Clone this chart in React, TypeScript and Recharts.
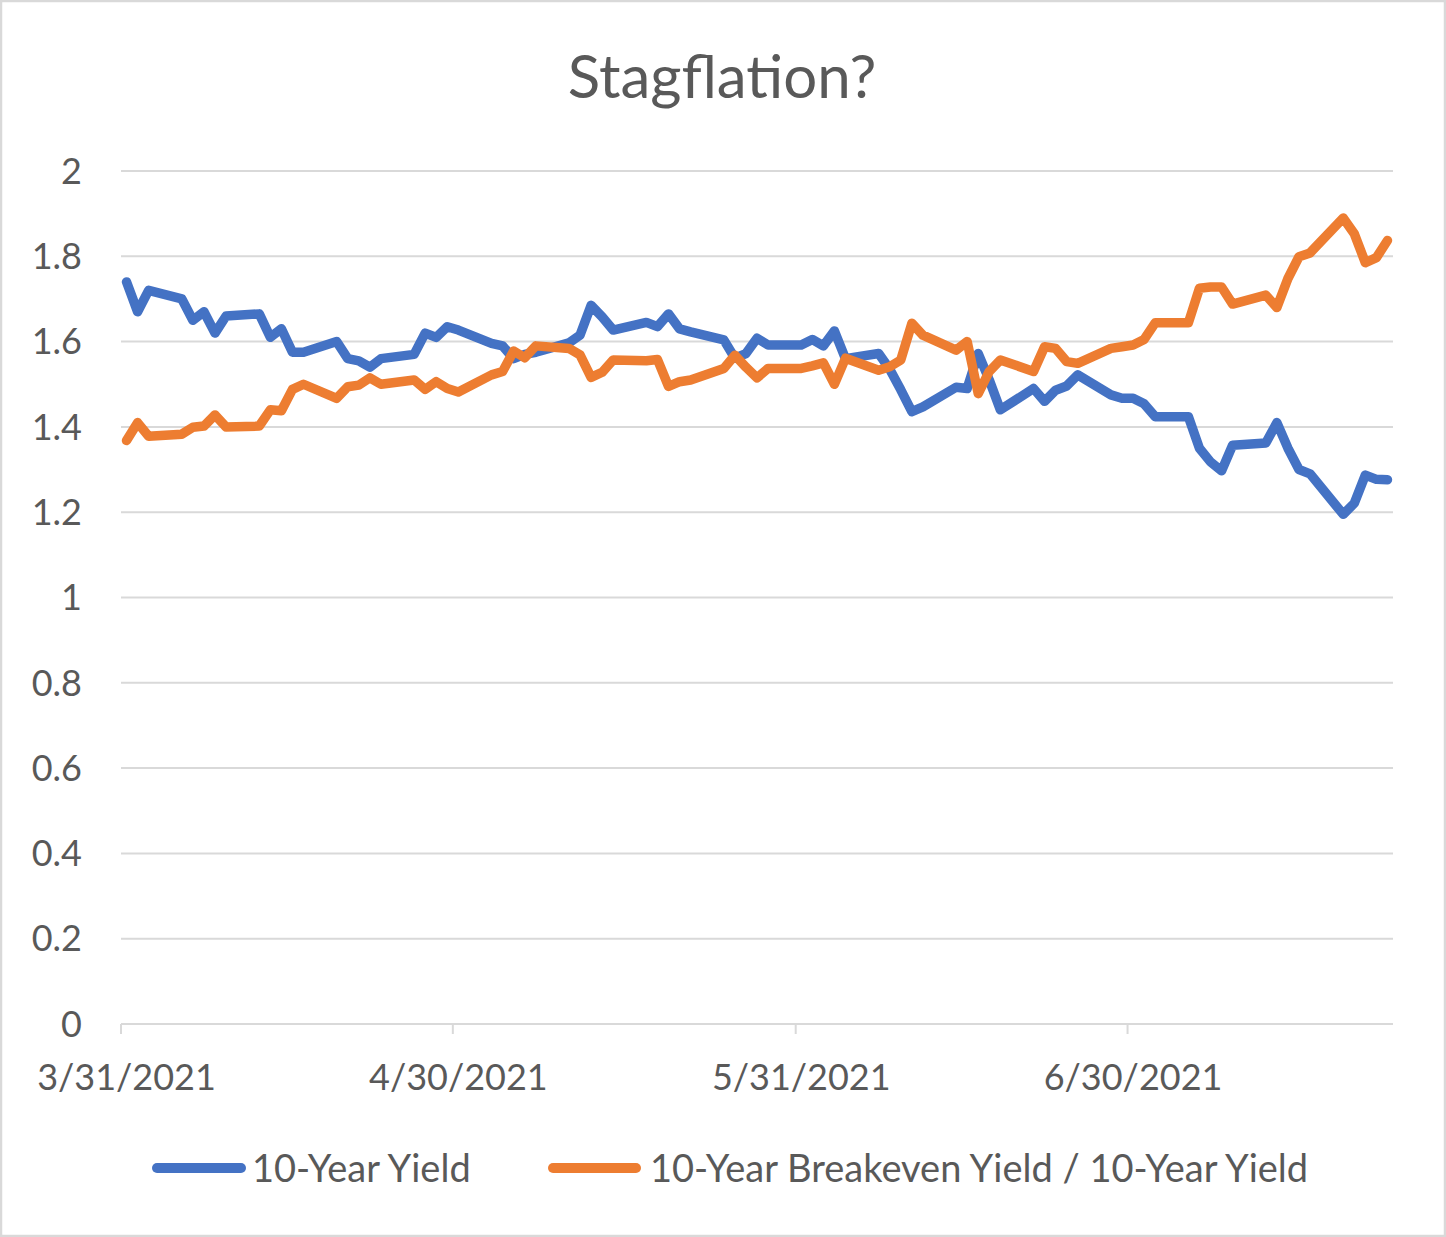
import { CartesianGrid, Line, LineChart, XAxis, YAxis } from 'recharts';

const DATES = [
  '3/31/2021',
  '4/1/2021', '4/2/2021', '4/5/2021', '4/6/2021', '4/7/2021', '4/8/2021', '4/9/2021',
  '4/12/2021', '4/13/2021', '4/14/2021', '4/15/2021', '4/16/2021',
  '4/19/2021', '4/20/2021', '4/21/2021', '4/22/2021', '4/23/2021',
  '4/26/2021', '4/27/2021', '4/28/2021', '4/29/2021', '4/30/2021',
  '5/3/2021', '5/4/2021', '5/5/2021', '5/6/2021', '5/7/2021',
  '5/10/2021', '5/11/2021', '5/12/2021', '5/13/2021', '5/14/2021',
  '5/17/2021', '5/18/2021', '5/19/2021', '5/20/2021', '5/21/2021',
  '5/24/2021', '5/25/2021', '5/26/2021', '5/27/2021', '5/28/2021', '5/31/2021',
  '6/1/2021', '6/2/2021', '6/3/2021', '6/4/2021',
  '6/7/2021', '6/8/2021', '6/9/2021', '6/10/2021', '6/11/2021',
  '6/14/2021', '6/15/2021', '6/16/2021', '6/17/2021', '6/18/2021',
  '6/21/2021', '6/22/2021', '6/23/2021', '6/24/2021', '6/25/2021',
  '6/28/2021', '6/29/2021', '6/30/2021', '7/1/2021', '7/2/2021',
  '7/5/2021', '7/6/2021', '7/7/2021', '7/8/2021', '7/9/2021',
  '7/12/2021', '7/13/2021', '7/14/2021', '7/15/2021', '7/16/2021',
  '7/19/2021', '7/20/2021', '7/21/2021', '7/22/2021', '7/23/2021',
];

const YIELD_10Y = [
  1.74,
  1.67, 1.72, 1.70, 1.65, 1.67, 1.62, 1.66,
  1.665, 1.61, 1.63, 1.575, 1.575,
  1.60, 1.56, 1.555, 1.54, 1.56,
  1.57, 1.62, 1.61, 1.635, 1.627,
  1.596, 1.59, 1.56, 1.57, 1.575,
  1.597, 1.615, 1.685, 1.658, 1.627,
  1.645, 1.635, 1.665, 1.63, 1.623,
  1.604, 1.561, 1.572, 1.608, 1.592, 1.592,
  1.605, 1.59, 1.625, 1.56,
  1.572, 1.535, 1.487, 1.436, 1.447,
  1.493, 1.49, 1.572, 1.51, 1.44,
  1.49, 1.46, 1.486, 1.496, 1.522,
  1.475, 1.467, 1.467, 1.454, 1.424,
  1.424, 1.35, 1.318, 1.297, 1.357,
  1.362, 1.41, 1.35, 1.30, 1.29,
  1.195, 1.221, 1.287, 1.277, 1.276,
];

const BREAKEVEN_RATIO = [
  1.368,
  1.41, 1.378, 1.383, 1.399, 1.402, 1.428, 1.40,
  1.402, 1.44, 1.438, 1.488, 1.50,
  1.467, 1.494, 1.498, 1.515, 1.50,
  1.51, 1.488, 1.506, 1.49, 1.482,
  1.522, 1.53, 1.578, 1.562, 1.59,
  1.584, 1.569, 1.516, 1.528, 1.557,
  1.555, 1.558, 1.495, 1.506, 1.51,
  1.537, 1.568, 1.54, 1.515, 1.537, 1.537,
  1.543, 1.55, 1.50, 1.561,
  1.533, 1.541, 1.557, 1.643, 1.615,
  1.58, 1.60, 1.478, 1.53, 1.557,
  1.53, 1.588, 1.584, 1.553, 1.549,
  1.584, 1.588, 1.592, 1.605, 1.644,
  1.644, 1.725, 1.728, 1.728, 1.688,
  1.709, 1.68, 1.748, 1.799, 1.808,
  1.89, 1.853, 1.785, 1.797, 1.837,
];

const X_TICK_LABELS = ['3/31/2021', '4/30/2021', '5/31/2021', '6/30/2021'];
const X_END_LABEL = '7/24/2021';
const Y_TICKS = [0, 0.2, 0.4, 0.6, 0.8, 1, 1.2, 1.4, 1.6, 1.8, 2];

const BLUE = '#4472C4';
const ORANGE = '#ED7D31';
const TEXT = '#595959';
const GRID = '#d9d9d9';
const FONT = 'Lato, "Open Sans", sans-serif';

const W = 1446;
const H = 1237;
const PLOT_LEFT = 121;
const PLOT_RIGHT = 1393;

const toUtc = (s: string) => {
  const [m, d, y] = s.split('/').map(Number);
  return Date.UTC(y, m - 1, d);
};
const T0 = toUtc(DATES[0]);
const dayOf = (s: string) => (toUtc(s) - T0) / 86400000;

const X_TICKS = X_TICK_LABELS.map(dayOf);
const X_MAX = dayOf(X_END_LABEL);
const HALF_DAY_PX = (PLOT_RIGHT - PLOT_LEFT) / X_MAX / 2;

// points sit in the middle of each day slot, like Excel's date axis
const data = DATES.map((d, i) => ({
  x: dayOf(d) + 0.5,
  yield10: YIELD_10Y[i],
  ratio: BREAKEVEN_RATIO[i],
}));

const XTick = (props: any) => {
  const { x, y, payload } = props;
  const idx = X_TICKS.indexOf(payload.value);
  return (
    <text
      x={x + HALF_DAY_PX}
      y={y + 56}
      textAnchor="middle"
      fill={TEXT}
      fontSize={36}
      fontFamily={FONT}
    >
      {X_TICK_LABELS[idx]}
    </text>
  );
};

const App = () => {
  return (
    <div style={{ position: 'absolute', left: 0, top: 0, width: W, height: H, background: '#fff' }}>
      <LineChart
        width={W}
        height={H}
        data={data}
        margin={{ top: 171, right: W - PLOT_RIGHT, bottom: 153, left: 0 }}
        style={{ fontFamily: FONT }}
      >
        <CartesianGrid stroke={GRID} strokeWidth={2} vertical={false} />
        <XAxis
          dataKey="x"
          type="number"
          domain={[0, X_MAX]}
          ticks={X_TICKS}
          height={60}
          tickSize={10}
          tickMargin={0}
          axisLine={{ stroke: GRID, strokeWidth: 2 }}
          tickLine={{ stroke: GRID, strokeWidth: 2 }}
          tick={<XTick />}
          allowDataOverflow
        />
        <YAxis
          width={PLOT_LEFT}
          domain={[0, 2]}
          ticks={Y_TICKS}
          axisLine={false}
          tickLine={false}
          tickMargin={33}
          tick={{ fill: TEXT, fontSize: 36, fontFamily: FONT }}
          tickFormatter={(v: number) => String(Math.round(v * 10) / 10)}
        />
        <Line
          type="linear"
          dataKey="yield10"
          name="10-Year Yield"
          stroke={BLUE}
          strokeWidth={9.5}
          strokeLinejoin="round"
          strokeLinecap="round"
          dot={false}
          isAnimationActive={false}
        />
        <Line
          type="linear"
          dataKey="ratio"
          name="10-Year Breakeven Yield / 10-Year Yield"
          stroke={ORANGE}
          strokeWidth={9.5}
          strokeLinejoin="round"
          strokeLinecap="round"
          dot={false}
          isAnimationActive={false}
        />
      </LineChart>
      <svg
        width={W}
        height={H}
        style={{ position: 'absolute', left: 0, top: 0, pointerEvents: 'none' }}
      >
        <rect x={1} y={1} width={W - 2} height={H - 2} fill="none" stroke={GRID} strokeWidth={2.5} />
        <text x={722} y={98} textAnchor="middle" fill={TEXT} fontSize={60} fontFamily={FONT}>
          Stagflation?
        </text>
        <line x1={157} y1={1168} x2={241} y2={1168} stroke={BLUE} strokeWidth={10} strokeLinecap="round" />
        <text x={252} y={1182} fill={TEXT} fontSize={38} fontFamily={FONT}>
          10-Year Yield
        </text>
        <line x1={553} y1={1168} x2={636} y2={1168} stroke={ORANGE} strokeWidth={10} strokeLinecap="round" />
        <text x={650} y={1182} fill={TEXT} fontSize={38} fontFamily={FONT}>
          10-Year Breakeven Yield / 10-Year Yield
        </text>
      </svg>
    </div>
  );
};

export default App;
